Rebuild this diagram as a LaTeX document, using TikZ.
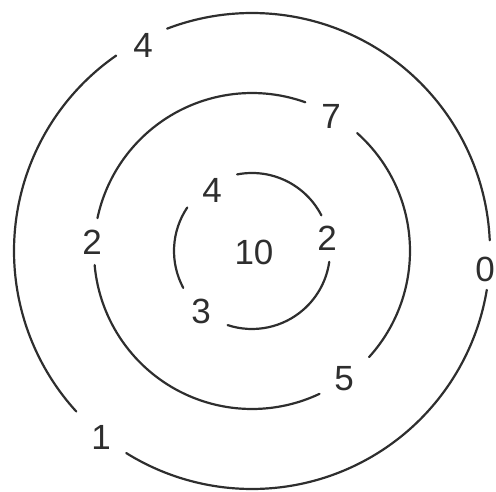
\documentclass[tikz,border=0pt]{standalone}
\usepackage{fontspec}
\setmainfont{Liberation Sans}
\definecolor{ink}{HTML}{2E2E2E}
\begin{document}
\begin{tikzpicture}[x=1pt,y=1pt,
  ring/.style={draw=ink,line width=2.2pt,line cap=round},
  num/.style={text=ink,font=\fontsize{35}{35}\selectfont,inner sep=0pt}]
\useasboundingbox (0,0) rectangle (496,491);
\coordinate (c) at (252,240);
% outer ring
\draw[ring] ([shift={(2.6:238)}]c) arc[start angle=2.6,end angle=110.9,radius=238];
\draw[ring] ([shift={(124.8:238)}]c) arc[start angle=124.8,end angle=222.4,radius=238];
\draw[ring] ([shift={(238.1:238)}]c) arc[start angle=238.1,end angle=350.6,radius=238];
% middle ring
\draw[ring] ([shift={(70.3:158)}]c) arc[start angle=70.3,end angle=168,radius=158];
\draw[ring] ([shift={(185.1:158)}]c) arc[start angle=185.1,end angle=295.3,radius=158];
\draw[ring] ([shift={(317.8:158)}]c) arc[start angle=317.8,end angle=408.3,radius=158];
% inner ring
\draw[ring] ([shift={(27.2:78)}]c) arc[start angle=27.2,end angle=101,radius=78];
\draw[ring] ([shift={(146.1:78)}]c) arc[start angle=146.1,end angle=208.2,radius=78];
\draw[ring] ([shift={(251.8:78)}]c) arc[start angle=251.8,end angle=352,radius=78];
% labels
\node[num] (o4) at (143,446) {4};
\node[num] (o0) at (485,222) {0};
\node[num] (o1) at (101,54) {1};
\node[num] (m7) at (331,375) {7};
\node[num] (m2) at (92,249) {2};
\node[num] (m5) at (344,112) {5};
\node[num] (i4) at (212,301) {4};
\node[num] (i2) at (327,253) {2};
\node[num] (i3) at (201,180) {3};
\node[num] (ten) at (254,239) {10};
\end{tikzpicture}
\end{document}
